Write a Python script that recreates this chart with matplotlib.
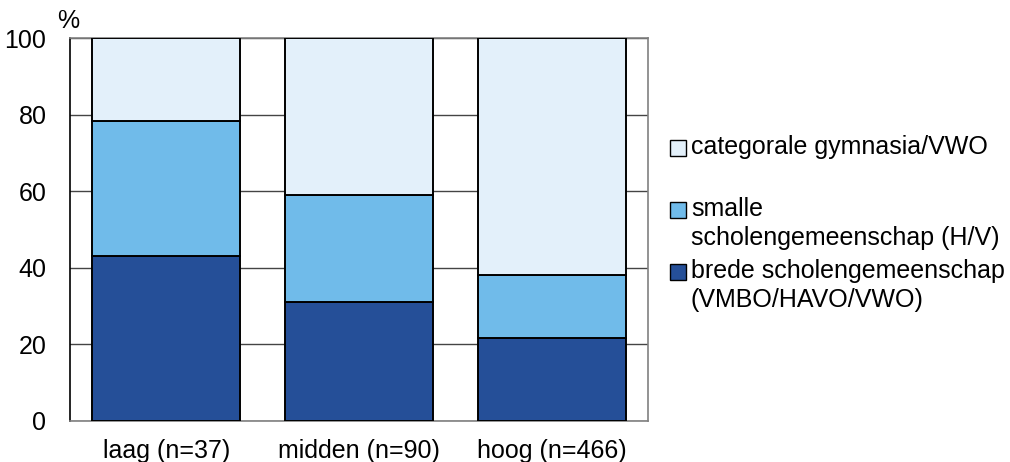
import matplotlib.pyplot as plt
from matplotlib.patches import Rectangle

plt.rcParams['font.family'] = ['Liberation Sans', 'DejaVu Sans']

# data (percentages)
groups = ["laag (n=37)", "midden (n=90)", "hoog (n=466)"]
brede = [43.2, 31.1, 21.7]
smalle = [35.1, 27.8, 16.5]
categorale = [21.7, 41.1, 61.8]

labels = ["categorale gymnasia/VWO",
          "smalle\nscholengemeenschap (H/V)",
          "brede scholengemeenschap\n(VMBO/HAVO/VWO)"]
colors = ["#e3f0fa", "#70bbea", "#254f98"]

fig = plt.figure(figsize=(10.10, 4.62), dpi=100)
ax = fig.add_axes([70 / 1010, 1 - 421 / 462, 578 / 1010, 383 / 462])

x = range(len(groups))
w = 0.767
bottom2 = [b + s for b, s in zip(brede, smalle)]
ax.bar(x, brede, w, color=colors[2], edgecolor="black", linewidth=1.4, zorder=3)
ax.bar(x, smalle, w, bottom=brede, color=colors[1], edgecolor="black", linewidth=1.4, zorder=3)
ax.bar(x, categorale, w, bottom=bottom2, color=colors[0], edgecolor="black", linewidth=1.4, zorder=3)

ax.set_xlim(-0.5, 2.5)
ax.set_ylim(0, 100)
ax.set_yticks([0, 20, 40, 60, 80, 100])
ax.set_xticks(list(x))
ax.set_xticklabels(groups)
ax.tick_params(length=0, labelsize=18)
ax.tick_params(axis="y", pad=17)
ax.tick_params(axis="x", pad=13)
ax.yaxis.grid(True, color="#444444", linewidth=1, zorder=0)
ax.set_axisbelow(True)
ax.spines["left"].set_color("black")
for s in ["top", "right", "bottom"]:
    ax.spines[s].set_color("#808080")
for s in ax.spines.values():
    s.set_linewidth(1.2)

fig.text(68 / 1010, 1 - 21 / 462, "%", fontsize=18, ha="center", va="center")

# legend drawn by hand
ys = [148, 210, 272]
for lab, col, y in zip(labels, colors, ys):
    fig.add_artist(Rectangle((670 / 1010, 1 - (y + 8) / 462), 16 / 1010, 16 / 462,
                             transform=fig.transFigure, facecolor=col,
                             edgecolor="black", linewidth=1))
    fig.text(691 / 1010, 1 - (y - 13) / 462, lab, fontsize=18, ha="left", va="top",
             linespacing=1.28)

fig.savefig("out.png", dpi=100)
